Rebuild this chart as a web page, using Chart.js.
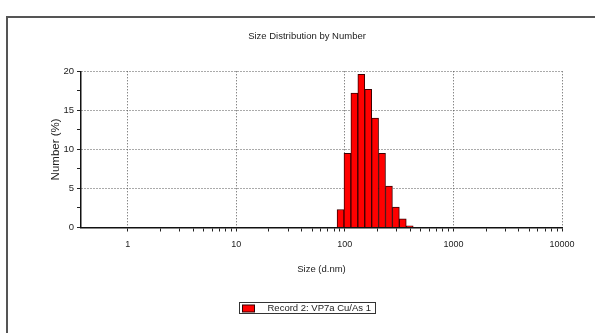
<!DOCTYPE html>
<html>
<head>
<meta charset="utf-8">
<script src="https://cdn.jsdelivr.net/npm/chart.js@4"></script>
<style>
  html, body { margin: 0; padding: 0; background: #fff; }
  #wrap { width: 595px; height: 333px; position: relative; }
</style>
</head>
<body>
<div id="wrap"><canvas id="sizeChart"></canvas></div>
<script>
// size classes (d.nm) and the number % found in each class
const sizes = [91.28, 105.7, 122.4, 141.8, 164.2, 190.1, 220.2, 255.0, 295.3, 342.0, 396.1];
const numberPct = [2.3, 9.5, 17.2, 19.6, 17.7, 14.0, 9.5, 5.3, 2.6, 1.1, 0.2];
const xDecades = [1, 10, 100, 1000, 10000];
const yLabelled = [0, 5, 10, 15, 20];
const recordName = 'Record 2: VP7a Cu/As 1';

const fontFamily = "'Liberation Sans', Arial, sans-serif";
const inkColor = '#222';
const dotColor = '#555';

// minor + major tick values along the size axis (1, 2 ... 9, 10, 20 ... 10000)
const xTickValues = [];
xDecades.forEach(function (d, i) {
  if (i === xDecades.length - 1) { xTickValues.push(d); return; }
  for (let k = 1; k <= 9; k++) xTickValues.push(d * k);
});

// outer frame and the boxed legend underneath the plot
const framePlugin = {
  id: 'frame',
  beforeDraw(chart) {
    const ctx = chart.ctx;
    ctx.save();
    ctx.fillStyle = '#fff';
    ctx.fillRect(0, 0, chart.width, chart.height);
    ctx.strokeStyle = '#555';
    ctx.lineWidth = 2;
    ctx.beginPath();
    ctx.moveTo(7, chart.height);
    ctx.lineTo(7, 17);
    ctx.lineTo(chart.width, 17);
    ctx.stroke();
    ctx.restore();
  },
  afterDraw(chart) {
    const ctx = chart.ctx;
    const ds = chart.data.datasets[0];
    ctx.save();
    ctx.font = '9.5px ' + fontFamily;
    const tw = ctx.measureText(ds.label).width;
    const boxW = Math.round(3 + 12 + 13 + tw + 5);
    const left = Math.round(307 - boxW / 2) + 0.5;
    const top = 302.5, h = 11;
    ctx.strokeStyle = '#333';
    ctx.lineWidth = 1;
    ctx.strokeRect(left, top, boxW, h);
    ctx.fillStyle = ds.backgroundColor;
    ctx.fillRect(left + 3, top + 2.5, 12, 7);
    ctx.strokeStyle = '#300';
    ctx.strokeRect(left + 3, top + 2.5, 12, 7);
    ctx.fillStyle = inkColor;
    ctx.textBaseline = 'middle';
    ctx.fillText(ds.label, left + 28, top + h / 2 + 0.5);
    ctx.restore();
  }
};

const ctx = document.getElementById('sizeChart').getContext('2d');
const sizeChart = new Chart(ctx, {
  type: 'bar',
  data: {
    datasets: [{
      label: recordName,
      xAxisID: 'xb',
      data: sizes.map(function (s, i) { return { x: s, y: numberPct[i] }; }),
      backgroundColor: '#ff0000',
      borderColor: '#3a0000',
      borderWidth: 1,
      borderSkipped: 'start',
      categoryPercentage: 1.0,
      barPercentage: 1.0
    }]
  },
  options: {
    responsive: true,
    maintainAspectRatio: false,
    animation: false,
    layout: { padding: { left: 52, right: 33, top: 0, bottom: 58 } },
    plugins: {
      legend: { display: false },
      tooltip: { enabled: false },
      title: {
        display: true,
        text: 'Size Distribution by Number',
        color: inkColor,
        font: { family: fontFamily, size: 9.5, weight: 'normal' },
        padding: { top: 31, bottom: 28.9 }
      }
    },
    scales: {
      // hidden copy of the size axis that only carries the bars
      xb: {
        type: 'logarithmic',
        display: false,
        offset: false,
        min: 0.372,
        max: 10000,
        afterBuildTicks: function (scale) {
          scale.ticks = [{ value: scale.min }, { value: scale.max }];
        }
      },
      x: {
        type: 'logarithmic',
        position: 'bottom',
        offset: false,
        min: 0.372,
        max: 10000,
        afterBuildTicks: function (scale) {
          scale.ticks = xTickValues.map(function (v) {
            return { value: v, major: xDecades.includes(v) };
          });
        },
        afterFit: function (scale) { scale.height = 47.5; },
        ticks: {
          autoSkip: false,
          maxRotation: 0,
          padding: 8,
          color: inkColor,
          font: { family: fontFamily, size: 9 },
          callback: function (value) {
            return xDecades.includes(value) ? String(value) : '';
          }
        },
        grid: {
          offset: false,
          color: function (c) {
            return c.tick && xDecades.includes(c.tick.value) ? dotColor : 'rgba(0,0,0,0)';
          },
          lineWidth: 1,
          tickColor: '#222',
          tickLength: 4,
          tickWidth: 1
        },
        border: { display: true, color: '#111', width: 1.5, dash: [1, 2] },
        title: {
          display: true,
          text: 'Size (d.nm)',
          color: inkColor,
          font: { family: fontFamily, size: 9.5 },
          padding: { top: 0, bottom: 0 }
        }
      },
      y: {
        min: 0,
        max: 20,
        afterFit: function (scale) { scale.width = 29; },
        ticks: {
          stepSize: 2.5,
          padding: 3,
          color: inkColor,
          font: { family: fontFamily, size: 9.5 },
          callback: function (value) {
            return yLabelled.includes(value) ? String(value) : '';
          }
        },
        grid: {
          color: function (c) {
            return c.tick && c.tick.value > 0 && yLabelled.includes(c.tick.value) ? dotColor : 'rgba(0,0,0,0)';
          },
          lineWidth: 1,
          tickColor: '#222',
          tickLength: 4,
          tickWidth: 1
        },
        border: { display: true, color: '#111', width: 1.5, dash: [1, 2] },
        title: {
          display: true,
          text: 'Number (%)',
          color: inkColor,
          font: { family: fontFamily, size: 11.5 },
          padding: { top: -3, bottom: 4 }
        }
      }
    }
  },
  plugins: [framePlugin]
});
</script>
</body>
</html>
